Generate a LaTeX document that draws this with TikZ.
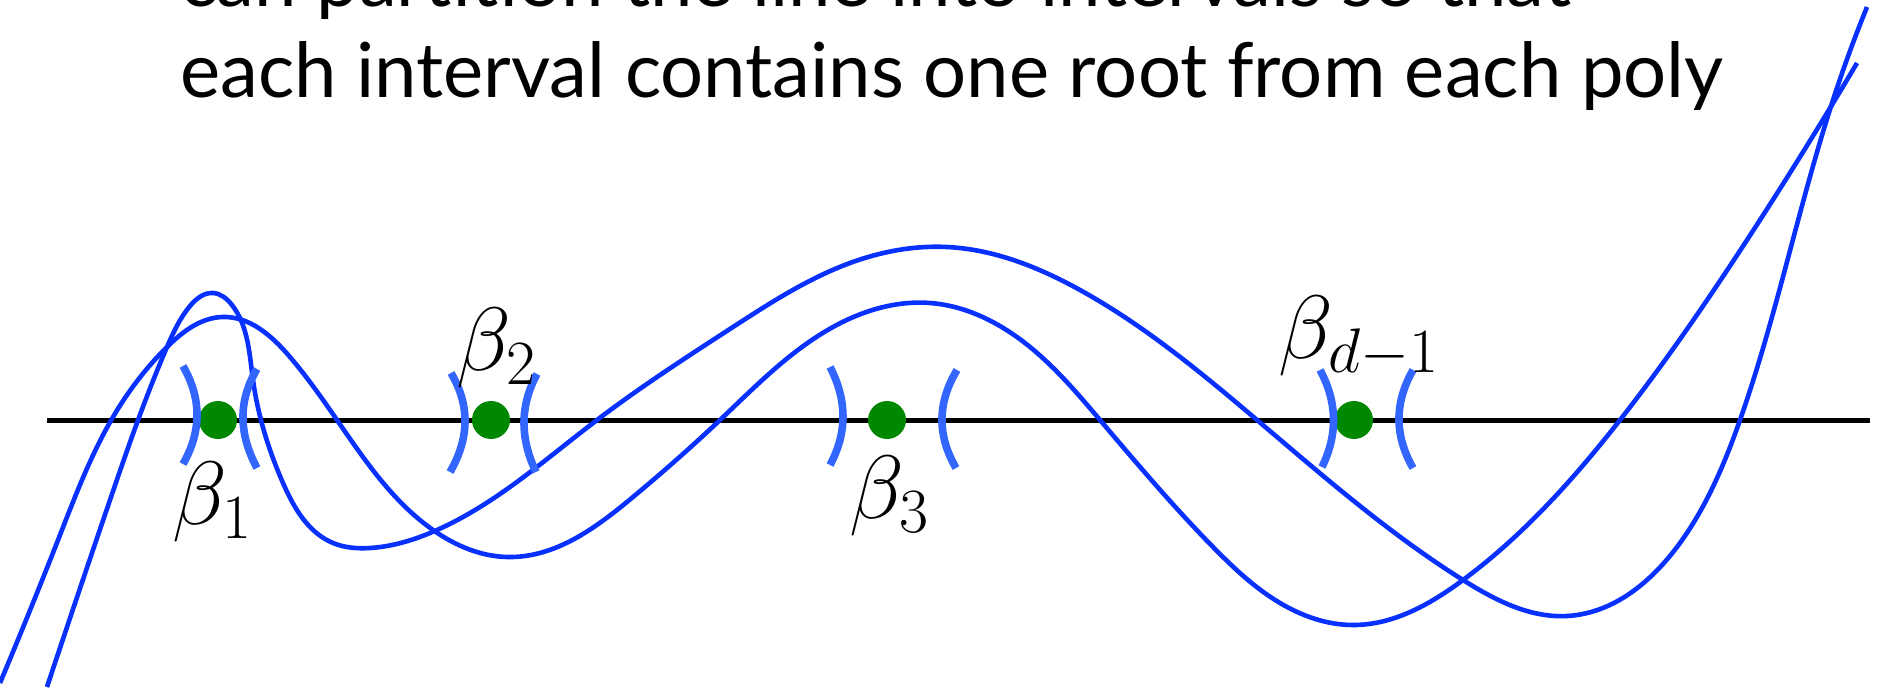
\RequirePackage{fix-cm}
\documentclass[tikz,border=0pt]{standalone}
\usepackage{fontspec}
\setmainfont{Lato}
\usetikzlibrary{hobby}
\begin{document}
\begin{tikzpicture}[x=0.5pt,y=-0.5pt,
  poly/.style={draw={rgb,255:red,8;green,48;blue,255}, line width=2.3pt, use Hobby shortcut},
  paren/.style={draw={rgb,255:red,51;green,102;blue,255}, line width=3.8pt},
  root/.style={circle, fill={rgb,255:red,0;green,136;blue,0}, minimum size=19pt, inner sep=0pt},
  blab/.style={font=\fontsize{45}{54}\selectfont, inner sep=0pt, anchor=north west},
  title/.style={font=\fontsize{38}{46}\selectfont, inner sep=0pt, anchor=base west}]
\useasboundingbox (0,0) rectangle (1880,690);
\clip (0,0) rectangle (1880,690);
% title
\node[title] (t1) at (180,7) {can partition the line into intervals so that};
\node[title] (t2) at (180,98) {each interval contains one root from each poly};
% axis
\coordinate (axl) at (47,420);
\coordinate (axr) at (1870,420);
\draw[line width=2.5pt] (axl) -- (axr);
% polynomials
\draw[poly] (47,687) .. (110,500) .. (167,347) .. (190,306) .. (213,293) .. (232,305) .. (253,380) .. (283,483) .. (333,543) .. (370,548) .. (437,530) .. (597,420) .. (733,327) .. (850,263) .. (947,247) .. (1080,290) .. (1257,420) .. (1463,580) .. (1567,616) .. (1677,547) .. (1740,420) .. (1833,100) .. (1867,7);
\draw[poly] (0,683) .. (60,535) .. (116,412) .. (167,347) .. (222,317) .. (290,357) .. (337,420) .. (433,530) .. (507,557) .. (633,497) .. (720,420) .. (833,327) .. (930,303) .. (1030,347) .. (1100,420) .. (1213,547) .. (1280,603) .. (1353,625) .. (1463,580) .. (1620,420) .. (1747,240) .. (1857,63);
% roots
\node[root] (r1) at (218,420) {};
\node[root] (r2) at (491,420) {};
\node[root] (r3) at (887,420) {};
\node[root] (r4) at (1354,420) {};
% intervals
\draw[paren] (183,366) .. controls (201.7,398.7) and (201.7,431.3) .. (183,464);
\draw[paren] (257,369) .. controls (238.3,400.3) and (238.3,433.3) .. (257,468);
\draw[paren] (451,373) .. controls (470,405) and (469.7,438) .. (450,472);
\draw[paren] (537,374) .. controls (520,405.3) and (519.7,438) .. (536,472);
\draw[paren] (830,367) .. controls (847.3,400.3) and (847.3,433) .. (830,465);
\draw[paren] (957,370) .. controls (937.3,402.7) and (937,435.3) .. (956,468);
\draw[paren] (1320,370) .. controls (1337.3,402) and (1338,434.3) .. (1322,467);
\draw[paren] (1413,370) .. controls (1394.3,402.7) and (1394.3,435.3) .. (1413,468);
% labels
\node[blab] (b1) at (172,462) {$\beta_1$};
\node[blab] (b2) at (456,308) {$\beta_2$};
\node[blab] (b3) at (849,456) {$\beta_3$};
\node[blab] (b4) at (1278,296) {$\beta_{d-1}$};
\end{tikzpicture}
\end{document}
